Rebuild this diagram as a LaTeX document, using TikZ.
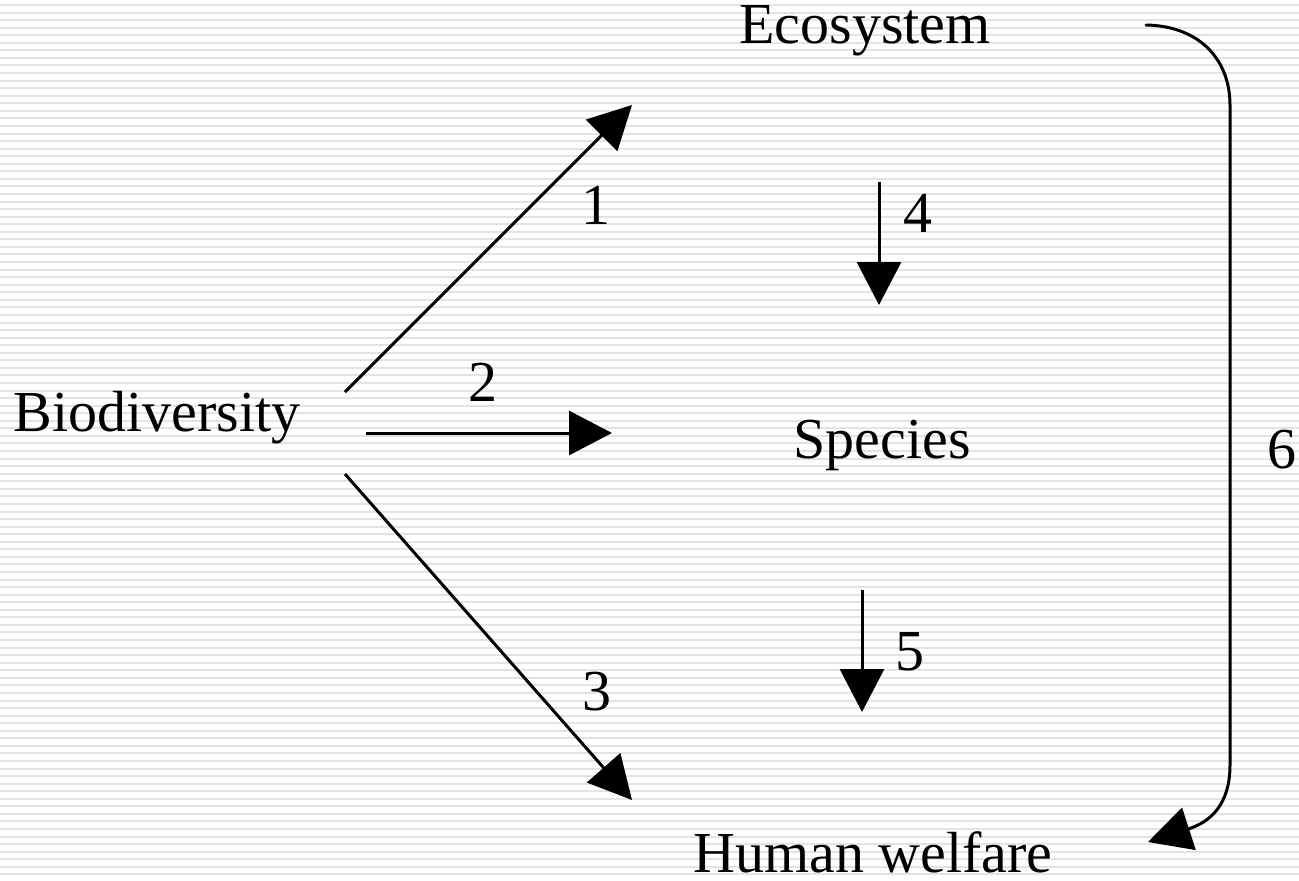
\documentclass[tikz,border=0pt]{standalone}
\usepackage{fontspec}
\setmainfont{Liberation Serif}
\usetikzlibrary{arrows.meta}
\begin{document}
\begin{tikzpicture}[x=1pt,y=-1pt,
  lbl/.style={font=\fontsize{58}{62}\selectfont, inner sep=0pt},
  arr/.style={line width=3pt, -{Triangle[length=43pt,width=44pt]}},
  stripe/.style={draw=black!11, line width=2pt}]
\useasboundingbox (0,0) rectangle (1299,881);
\fill[white] (0,0) rectangle (1299,881);
\foreach \i in {0,...,116} {
  \draw[stripe] (0,{5+7.56*\i}) -- (1299,{5+7.56*\i});
}
% nodes
\node[lbl] (eco) at (865,31) {Ecosystem};
\node[lbl] (bio) at (157,418) {Biodiversity};
\node[lbl] (spe) at (882,445) {Species};
\node[lbl] (hum) at (873,852) {Human welfare};
\node[lbl] (l1) at (596,205) {1};
\node[lbl] (l2) at (483,382) {2};
\node[lbl] (l3) at (597,692) {3};
\node[lbl] (l4) at (918,213) {4};
\node[lbl] (l5) at (910,652) {5};
\node[lbl] (l6) at (1282,450) {6};
% connector ends
\coordinate (a1s) at (345,392); \coordinate (a1e) at (632,105);
\coordinate (a2s) at (366,433); \coordinate (a2e) at (612,433);
\coordinate (a3s) at (345,474); \coordinate (a3e) at (632,800);
\coordinate (a4s) at (879,182); \coordinate (a4e) at (879,305);
\coordinate (a5s) at (862,590); \coordinate (a5e) at (862,712);
\coordinate (a6s) at (1146,25); \coordinate (a6e) at (1148,842);
\draw[arr] (a1s) -- (a1e);
\draw[arr] (a2s) -- (a2e);
\draw[arr] (a3s) -- (a3e);
\draw[arr] (a4s) -- (a4e);
\draw[arr] (a5s) -- (a5e);
\draw[arr, line cap=round] (a6s) .. controls (1200,26) and (1230,60) .. (1230,105) -- (1230,765) .. controls (1230,805) and (1210,822) .. (a6e);
\end{tikzpicture}
\end{document}
